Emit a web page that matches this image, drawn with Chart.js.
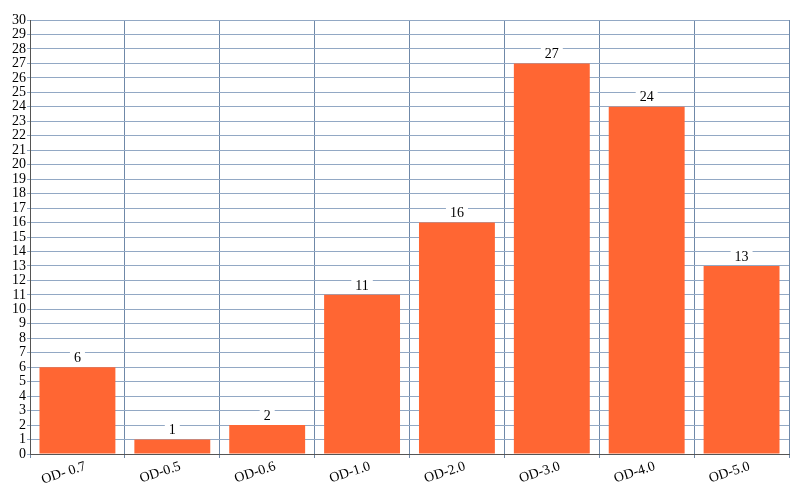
<!DOCTYPE html>
<html>
<head>
<meta charset="utf-8">
<script src="https://cdn.jsdelivr.net/npm/chart.js@4"></script>
<style>
  html, body { margin: 0; padding: 0; background: #fff; }
  #wrap { width: 800px; height: 488px; }
</style>
</head>
<body>
<div id="wrap"><canvas id="myChart" width="800" height="488"></canvas></div>
<script>
const categorias = ['OD- 0.7', 'OD-0.5', 'OD-0.6', 'OD-1.0', 'OD-2.0', 'OD-3.0', 'OD-4.0', 'OD-5.0'];
const valores = [6, 1, 2, 11, 16, 27, 24, 13];
const yMin = 0;
const yMax = 30;
const yPaso = 1;

const fuente = "'Liberation Serif', 'Times New Roman', serif";

// etiquetas con fondo blanco encima de cada barra
const etiquetasBarras = {
  id: 'etiquetasBarras',
  afterDatasetsDraw(chart) {
    const ctx = chart.ctx;
    const meta = chart.getDatasetMeta(0);
    ctx.save();
    ctx.font = '14px ' + fuente;
    ctx.textAlign = 'center';
    ctx.textBaseline = 'middle';
    meta.data.forEach((bar, i) => {
      const texto = String(valores[i]);
      const w = ctx.measureText(texto).width + 8;
      const h = 16;
      ctx.fillStyle = '#ffffff';
      ctx.fillRect(bar.x - w / 2, bar.y - h - 1, w, h);
      ctx.fillStyle = '#000000';
      ctx.fillText(texto, bar.x, bar.y - h / 2 - 1);
    });
    ctx.restore();
  }
};

const config = {
  type: 'bar',
  data: {
    labels: categorias,
    datasets: [{
      data: valores,
      backgroundColor: '#ff6633',
      borderWidth: 0,
      barPercentage: 0.8,
      categoryPercentage: 1.0
    }]
  },
  options: {
    responsive: false,
    animation: false,
    layout: { padding: { top: 20, right: 11, left: 0, bottom: 0 } },
    plugins: {
      legend: { display: false },
      tooltip: { enabled: false }
    },
    scales: {
      x: {
        offset: true,
        grid: {
          offset: true,
          color: '#6f88a8',
          lineWidth: 1,
          tickLength: 4,
          drawTicks: true
        },
        border: { color: '#555555', width: 1 },
        ticks: {
          color: '#000',
          font: { family: fuente, size: 14 },
          minRotation: 18,
          maxRotation: 18,
          autoSkip: false,
          labelOffset: 8,
          padding: 0
        },
        afterFit(scale) { scale.height = 34; }
      },
      y: {
        min: yMin,
        max: yMax,
        grid: {
          color: '#92a8c4',
          lineWidth: 1,
          tickLength: 3
        },
        border: { color: '#555555', width: 1 },
        ticks: {
          stepSize: yPaso,
          autoSkip: false,
          color: '#000',
          font: { family: fuente, size: 14 },
          padding: 1
        },
        afterFit(scale) { scale.width = 30; }
      }
    }
  },
  plugins: [etiquetasBarras]
};

const chart = new Chart(document.getElementById('myChart'), config);
</script>
</body>
</html>
